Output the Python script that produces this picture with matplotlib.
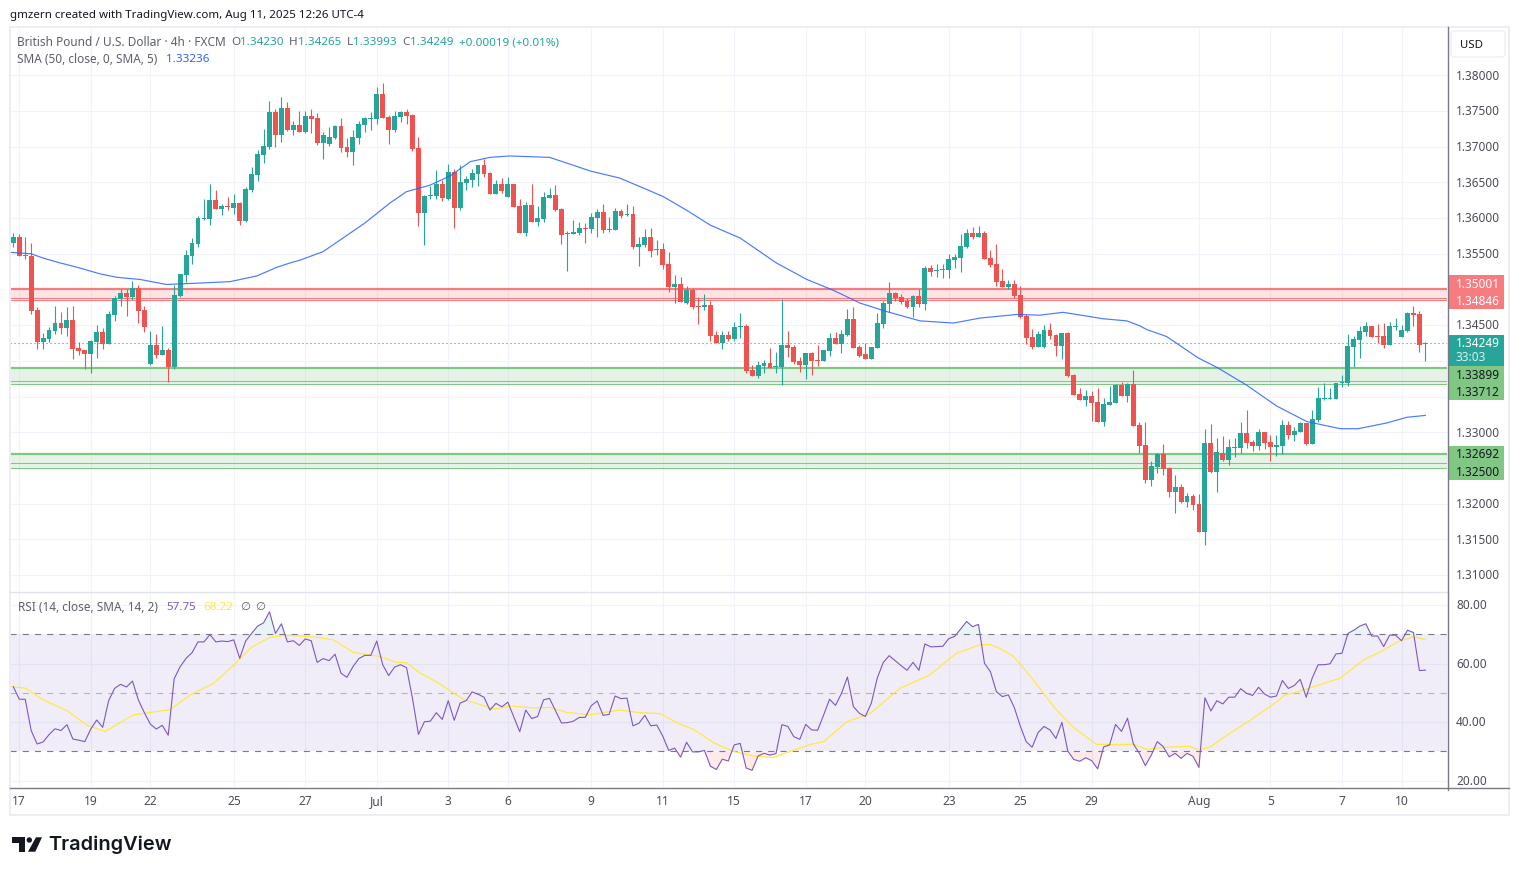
import numpy as np
import matplotlib
matplotlib.use("Agg")
import matplotlib.pyplot as plt
from matplotlib.patches import Rectangle, FancyBboxPatch, Polygon, Circle

# GBP/USD 4h candles
opens = [
    1.3565, 1.3574, 1.3548, 1.3547, 1.3471, 1.3427, 1.3431, 1.3442, 1.3453, 1.3446,
    1.3457, 1.3418, 1.3415, 1.3410, 1.3426, 1.3440, 1.3424, 1.3464, 1.3487, 1.3495,
    1.3489, 1.3502, 1.3471, 1.3396, 1.3422, 1.3408, 1.3415, 1.3391, 1.3491, 1.3520,
    1.3547, 1.3564, 1.3599, 1.3599, 1.3625, 1.3613, 1.3617, 1.3614, 1.3621, 1.3596,
    1.3639, 1.3660, 1.3688, 1.3700, 1.3749, 1.3716, 1.3754, 1.3723, 1.3730, 1.3721,
    1.3743, 1.3740, 1.3705, 1.3704, 1.3712, 1.3729, 1.3700, 1.3693, 1.3712, 1.3730,
    1.3739, 1.3739, 1.3774, 1.3742, 1.3723, 1.3742, 1.3749, 1.3744, 1.3698, 1.3607,
    1.3631, 1.3631, 1.3648, 1.3627, 1.3665, 1.3614, 1.3649, 1.3653, 1.3662, 1.3674,
    1.3663, 1.3634, 1.3648, 1.3630, 1.3648, 1.3617, 1.3579, 1.3618, 1.3594, 1.3599,
    1.3628, 1.3632, 1.3613, 1.3578, 1.3578, 1.3579, 1.3586, 1.3585, 1.3600, 1.3608,
    1.3583, 1.3583, 1.3610, 1.3604, 1.3606, 1.3559, 1.3562, 1.3574, 1.3555, 1.3557,
    1.3536, 1.3503, 1.3508, 1.3481, 1.3499, 1.3477, 1.3475, 1.3478, 1.3436, 1.3425,
    1.3436, 1.3431, 1.3447, 1.3449, 1.3387, 1.3379, 1.3393, 1.3397, 1.3391, 1.3391,
    1.3422, 1.3419, 1.3400, 1.3394, 1.3411, 1.3401, 1.3400, 1.3414, 1.3432, 1.3424,
    1.3436, 1.3459, 1.3419, 1.3410, 1.3403, 1.3418, 1.3452, 1.3480, 1.3495, 1.3489,
    1.3484, 1.3475, 1.3491, 1.3480, 1.3530, 1.3526, 1.3527, 1.3527, 1.3541, 1.3544,
    1.3559, 1.3579, 1.3573, 1.3579, 1.3544, 1.3536, 1.3512, 1.3503, 1.3508, 1.3492,
    1.3463, 1.3433, 1.3419, 1.3419, 1.3443, 1.3436, 1.3421, 1.3439, 1.3380, 1.3354,
    1.3345, 1.3351, 1.3342, 1.3314, 1.3338, 1.3341, 1.3366, 1.3351, 1.3368, 1.3310,
    1.3282, 1.3233, 1.3251, 1.3270, 1.3250, 1.3216, 1.3223, 1.3202, 1.3211, 1.3200,
    1.3160, 1.3285, 1.3244, 1.3271, 1.3261, 1.3278, 1.3278, 1.3299, 1.3286, 1.3281,
    1.3300, 1.3286, 1.3279, 1.3281, 1.3310, 1.3296, 1.3300, 1.3313, 1.3284, 1.3317,
    1.3347, 1.3347, 1.3347, 1.3369, 1.3369, 1.3419, 1.3429, 1.3441, 1.3449, 1.3435,
    1.3435, 1.3422, 1.3448, 1.3433, 1.3442, 1.3467, 1.3466, 1.34230,
]
highs = [
    1.3579, 1.3578, 1.3574, 1.3565, 1.3475, 1.3439, 1.3447, 1.3477, 1.3468, 1.3475,
    1.3477, 1.3426, 1.3415, 1.3429, 1.3450, 1.3446, 1.3470, 1.3491, 1.3501, 1.3501,
    1.3512, 1.3506, 1.3477, 1.3442, 1.3438, 1.3449, 1.3418, 1.3506, 1.3522, 1.3555,
    1.3572, 1.3603, 1.3627, 1.3648, 1.3639, 1.3620, 1.3630, 1.3634, 1.3622, 1.3644,
    1.3671, 1.3695, 1.3725, 1.3764, 1.3753, 1.3770, 1.3763, 1.3736, 1.3750, 1.3750,
    1.3753, 1.3747, 1.3721, 1.3728, 1.3730, 1.3740, 1.3712, 1.3723, 1.3736, 1.3742,
    1.3749, 1.3784, 1.3789, 1.3744, 1.3750, 1.3750, 1.3753, 1.3746, 1.3714, 1.3632,
    1.3645, 1.3667, 1.3653, 1.3676, 1.3669, 1.3674, 1.3659, 1.3669, 1.3674, 1.3683,
    1.3665, 1.3653, 1.3656, 1.3657, 1.3648, 1.3627, 1.3622, 1.3648, 1.3617, 1.3637,
    1.3642, 1.3646, 1.3614, 1.3582, 1.3597, 1.3594, 1.3593, 1.3607, 1.3613, 1.3620,
    1.3601, 1.3614, 1.3613, 1.3620, 1.3617, 1.3574, 1.3585, 1.3586, 1.3569, 1.3565,
    1.3552, 1.3520, 1.3517, 1.3505, 1.3502, 1.3489, 1.3494, 1.3484, 1.3442, 1.3442,
    1.3442, 1.3454, 1.3467, 1.3452, 1.3394, 1.3400, 1.3401, 1.3418, 1.3412, 1.3487,
    1.3442, 1.3422, 1.3405, 1.3411, 1.3412, 1.3422, 1.3415, 1.3439, 1.3440, 1.3443,
    1.3473, 1.3475, 1.3422, 1.3425, 1.3419, 1.3467, 1.3484, 1.3510, 1.3496, 1.3494,
    1.3488, 1.3492, 1.3501, 1.3533, 1.3534, 1.3536, 1.3536, 1.3550, 1.3550, 1.3578,
    1.3585, 1.3587, 1.3589, 1.3582, 1.3555, 1.3564, 1.3529, 1.3513, 1.3513, 1.3505,
    1.3466, 1.3445, 1.3442, 1.3450, 1.3453, 1.3438, 1.3439, 1.3440, 1.3382, 1.3362,
    1.3359, 1.3358, 1.3362, 1.3348, 1.3365, 1.3368, 1.3370, 1.3369, 1.3387, 1.3314,
    1.3314, 1.3260, 1.3271, 1.3284, 1.3251, 1.3240, 1.3228, 1.3215, 1.3214, 1.3214,
    1.3305, 1.3312, 1.3292, 1.3295, 1.3291, 1.3292, 1.3314, 1.3331, 1.3289, 1.3305,
    1.3300, 1.3296, 1.3296, 1.3317, 1.3316, 1.3307, 1.3314, 1.3313, 1.3331, 1.3363,
    1.3369, 1.3362, 1.3369, 1.3380, 1.3438, 1.3435, 1.3449, 1.3455, 1.3449, 1.3452,
    1.3453, 1.3455, 1.3460, 1.3450, 1.3468, 1.3477, 1.3470, 1.34265,
]
lows = [
    1.3559, 1.3547, 1.3542, 1.3466, 1.3416, 1.3416, 1.3426, 1.3438, 1.3438, 1.3435,
    1.3402, 1.3408, 1.3388, 1.3383, 1.3404, 1.3417, 1.3424, 1.3456, 1.3477, 1.3463,
    1.3485, 1.3453, 1.3440, 1.3394, 1.3404, 1.3408, 1.3371, 1.3388, 1.3489, 1.3510,
    1.3536, 1.3559, 1.3597, 1.3590, 1.3613, 1.3604, 1.3611, 1.3606, 1.3590, 1.3594,
    1.3637, 1.3652, 1.3677, 1.3697, 1.3700, 1.3707, 1.3722, 1.3716, 1.3721, 1.3719,
    1.3719, 1.3702, 1.3683, 1.3701, 1.3711, 1.3693, 1.3686, 1.3674, 1.3704, 1.3721,
    1.3723, 1.3732, 1.3740, 1.3704, 1.3721, 1.3735, 1.3732, 1.3694, 1.3589, 1.3562,
    1.3627, 1.3627, 1.3624, 1.3625, 1.3586, 1.3611, 1.3639, 1.3644, 1.3645, 1.3657,
    1.3634, 1.3634, 1.3635, 1.3630, 1.3616, 1.3579, 1.3575, 1.3594, 1.3589, 1.3594,
    1.3628, 1.3610, 1.3564, 1.3526, 1.3578, 1.3576, 1.3565, 1.3579, 1.3574, 1.3579,
    1.3581, 1.3583, 1.3600, 1.3603, 1.3557, 1.3533, 1.3559, 1.3545, 1.3548, 1.3529,
    1.3496, 1.3481, 1.3482, 1.3480, 1.3473, 1.3452, 1.3471, 1.3428, 1.3425, 1.3417,
    1.3428, 1.3428, 1.3432, 1.3383, 1.3379, 1.3376, 1.3383, 1.3390, 1.3383, 1.3366,
    1.3405, 1.3396, 1.3384, 1.3375, 1.3380, 1.3393, 1.3400, 1.3407, 1.3424, 1.3411,
    1.3435, 1.3418, 1.3405, 1.3403, 1.3403, 1.3418, 1.3446, 1.3468, 1.3484, 1.3480,
    1.3474, 1.3461, 1.3475, 1.3471, 1.3519, 1.3517, 1.3516, 1.3516, 1.3530, 1.3524,
    1.3558, 1.3571, 1.3573, 1.3543, 1.3531, 1.3505, 1.3503, 1.3501, 1.3488, 1.3460,
    1.3424, 1.3417, 1.3419, 1.3418, 1.3431, 1.3407, 1.3403, 1.3377, 1.3352, 1.3345,
    1.3337, 1.3316, 1.3314, 1.3309, 1.3338, 1.3341, 1.3351, 1.3342, 1.3309, 1.3271,
    1.3229, 1.3225, 1.3243, 1.3240, 1.3209, 1.3187, 1.3201, 1.3195, 1.3191, 1.3160,
    1.3142, 1.3243, 1.3216, 1.3260, 1.3254, 1.3265, 1.3271, 1.3278, 1.3274, 1.3275,
    1.3277, 1.3260, 1.3267, 1.3270, 1.3291, 1.3288, 1.3300, 1.3282, 1.3284, 1.3314,
    1.3345, 1.3347, 1.3347, 1.3363, 1.3365, 1.3391, 1.3404, 1.3435, 1.3433, 1.3425,
    1.3418, 1.3422, 1.3443, 1.3433, 1.3441, 1.3449, 1.3412, 1.33993,
]
closes = [
    1.3574, 1.3547, 1.3547, 1.3470, 1.3427, 1.3432, 1.3443, 1.3453, 1.3446, 1.3457,
    1.3417, 1.3414, 1.3410, 1.3428, 1.3440, 1.3424, 1.3466, 1.3488, 1.3495, 1.3489,
    1.3502, 1.3470, 1.3447, 1.3422, 1.3408, 1.3415, 1.3391, 1.3492, 1.3522, 1.3548,
    1.3565, 1.3600, 1.3600, 1.3625, 1.3613, 1.3617, 1.3616, 1.3621, 1.3596, 1.3641,
    1.3662, 1.3690, 1.3701, 1.3749, 1.3716, 1.3754, 1.3723, 1.3730, 1.3721, 1.3743,
    1.3739, 1.3705, 1.3716, 1.3714, 1.3729, 1.3698, 1.3693, 1.3714, 1.3732, 1.3740,
    1.3740, 1.3774, 1.3740, 1.3723, 1.3743, 1.3749, 1.3743, 1.3697, 1.3607, 1.3631,
    1.3632, 1.3648, 1.3628, 1.3665, 1.3614, 1.3650, 1.3655, 1.3663, 1.3674, 1.3662,
    1.3634, 1.3648, 1.3638, 1.3648, 1.3616, 1.3579, 1.3618, 1.3594, 1.3600, 1.3630,
    1.3632, 1.3611, 1.3576, 1.3579, 1.3580, 1.3586, 1.3585, 1.3601, 1.3608, 1.3583,
    1.3585, 1.3610, 1.3603, 1.3606, 1.3559, 1.3564, 1.3574, 1.3554, 1.3557, 1.3534,
    1.3503, 1.3508, 1.3482, 1.3499, 1.3475, 1.3475, 1.3478, 1.3435, 1.3425, 1.3436,
    1.3431, 1.3447, 1.3449, 1.3386, 1.3379, 1.3394, 1.3397, 1.3390, 1.3393, 1.3422,
    1.3418, 1.3398, 1.3394, 1.3411, 1.3400, 1.3400, 1.3415, 1.3432, 1.3424, 1.3438,
    1.3459, 1.3418, 1.3407, 1.3403, 1.3419, 1.3453, 1.3481, 1.3495, 1.3488, 1.3482,
    1.3475, 1.3491, 1.3480, 1.3530, 1.3524, 1.3527, 1.3529, 1.3543, 1.3545, 1.3561,
    1.3579, 1.3573, 1.3579, 1.3543, 1.3534, 1.3510, 1.3503, 1.3508, 1.3491, 1.3461,
    1.3432, 1.3419, 1.3438, 1.3443, 1.3435, 1.3421, 1.3439, 1.3379, 1.3352, 1.3345,
    1.3351, 1.3341, 1.3314, 1.3340, 1.3342, 1.3366, 1.3351, 1.3368, 1.3309, 1.3281,
    1.3233, 1.3253, 1.3270, 1.3249, 1.3216, 1.3223, 1.3202, 1.3211, 1.3198, 1.3160,
    1.3285, 1.3244, 1.3272, 1.3261, 1.3279, 1.3279, 1.3299, 1.3285, 1.3281, 1.3300,
    1.3285, 1.3279, 1.3282, 1.3310, 1.3296, 1.3302, 1.3313, 1.3284, 1.3319, 1.3348,
    1.3348, 1.3348, 1.3369, 1.3371, 1.3421, 1.3431, 1.3442, 1.3449, 1.3433, 1.3433,
    1.3422, 1.3449, 1.3449, 1.3443, 1.3467, 1.3464, 1.3422, 1.34249,
]

# SMA(50), read at a set of bar positions
sma_bars = [-0.5, 3, 5, 7.5, 11.2, 14.5, 17.4, 21.3, 25.7, 31.3, 36.4, 40.9, 44.2, 46.4, 48.1,
            52, 54.8, 59, 63.2, 66, 69.9, 73.3, 76.7, 80, 83.3, 90, 94, 96.8, 101.8, 106.6,
            109.1, 113, 117, 122, 128.1, 133.2, 137.6, 142.1, 146.6, 152.2, 157.8, 162.3,
            168.4, 172.3, 176.2, 182.9, 186.9, 189.1, 190.2, 193.6, 198.9, 202, 207, 212,
            217.1, 222.7, 225.7, 230.5, 233.9, 237]
sma_vals = [1.3552, 1.3550, 1.3544, 1.3538, 1.3530, 1.3522, 1.3517, 1.3514, 1.3507, 1.3509,
            1.3511, 1.3519, 1.3531, 1.3537, 1.3541, 1.3553, 1.3569, 1.3593, 1.3621, 1.3637,
            1.3646, 1.3659, 1.3679, 1.3685, 1.3687, 1.3685, 1.3674, 1.3666, 1.3656, 1.3639,
            1.3630, 1.3611, 1.3590, 1.3572, 1.3537, 1.3514, 1.3499, 1.3481, 1.3469, 1.3456,
            1.3453, 1.3460, 1.3465, 1.3464, 1.3468, 1.3459, 1.3456, 1.3449, 1.3444, 1.3434,
            1.3404, 1.3391, 1.3366, 1.3337, 1.3315, 1.3305, 1.3305, 1.3313, 1.3321, 1.33236]

rsi_vals = [
    52.1, 47.8, 47.8, 37.1, 32.5, 33.2, 35.7, 37.7, 37.1, 39.1,
    34.2, 33.8, 33.3, 37.6, 40.7, 38.2, 47.3, 51.5, 52.9, 52.0,
    54.0, 47.5, 43.2, 39.3, 37.6, 38.9, 35.5, 54.8, 58.9, 61.8,
    63.7, 67.4, 67.4, 69.9, 67.4, 67.7, 67.5, 68.1, 61.8, 67.7,
    70.3, 72.8, 73.9, 77.7, 70.3, 73.6, 67.4, 67.8, 66.2, 68.4,
    67.8, 60.4, 61.7, 61.0, 63.2, 56.7, 55.3, 58.9, 61.7, 62.8,
    62.8, 67.7, 59.6, 55.9, 58.8, 59.6, 58.6, 48.1, 35.8, 40.1,
    40.3, 43.2, 40.9, 47.3, 40.6, 46.5, 47.3, 50.3, 49.5, 48.5,
    44.1, 46.4, 45.2, 46.8, 41.7, 36.7, 44.1, 41.2, 41.9, 47.6,
    48.1, 43.9, 39.7, 39.8, 40.3, 41.6, 41.6, 45.6, 47.2, 42.3,
    42.6, 48.9, 48.0, 48.2, 38.7, 39.6, 42.3, 38.7, 39.0, 35.2,
    30.3, 31.1, 28.0, 33.1, 29.8, 29.8, 30.3, 24.9, 23.8, 27.3,
    26.7, 32.2, 32.7, 24.3, 23.5, 28.4, 29.3, 28.7, 29.2, 39.1,
    38.5, 35.0, 34.1, 39.2, 37.3, 37.2, 42.4, 47.8, 45.7, 49.8,
    55.4, 45.3, 43.0, 41.9, 46.4, 55.0, 60.3, 62.7, 61.0, 59.3,
    57.7, 60.4, 57.7, 66.7, 65.7, 65.8, 65.9, 68.5, 69.3, 71.8,
    74.4, 72.6, 73.4, 60.1, 57.2, 50.4, 48.7, 49.3, 45.0, 38.7,
    33.3, 31.4, 36.4, 38.5, 37.3, 34.4, 39.9, 30.0, 27.2, 26.6,
    27.8, 26.8, 24.0, 31.5, 32.2, 39.2, 36.8, 41.3, 32.5, 29.3,
    25.1, 28.7, 33.3, 31.6, 28.1, 29.3, 27.6, 29.3, 28.3, 24.5,
    48.3, 43.8, 47.3, 46.2, 48.5, 48.5, 51.4, 49.8, 49.1, 51.9,
    49.6, 48.5, 48.9, 54.2, 51.5, 52.5, 54.6, 48.5, 55.0, 59.6,
    59.6, 59.9, 63.3, 63.5, 70.3, 71.4, 72.8, 73.6, 69.4, 69.4,
    65.8, 69.7, 69.7, 67.8, 71.4, 70.6, 57.6, 57.75,
]

# yellow RSI smoothing line, read at a set of bar positions
rsi_ma_bars = [-0.5, 2, 5, 9, 12.3, 15.4, 20.1, 22.9, 26.3, 29.7, 33.6, 37, 40, 43.1, 45.9,
               50.9, 53.7, 57.1, 61.5, 64.3, 66, 68.3, 71, 75.5, 78.3, 80.8, 83.4, 87.3, 90.1,
               92.9, 96.8, 101.8, 105.2, 108.5, 111.9, 114.1, 117.5, 120.8, 124.2, 127.5,
               133.7, 136, 139.9, 143.8, 148.8, 153.8, 158.3, 162.2, 163.9, 165.6, 167.9,
               171.2, 174.6, 177.9, 181.8, 184.6, 188, 190.2, 193.6, 197.5, 199, 200.9, 204.2,
               207, 212, 213.2, 216, 222.7, 226.6, 230, 232.2, 235, 237]
rsi_ma_vals = [52.1, 51.6, 47.6, 43.9, 39.0, 36.8, 42.4, 43.3, 44.2, 49.3, 53.2, 59.5, 65.6,
               69.0, 69.7, 69.0, 68.1, 63.8, 62.4, 60.4, 60.3, 56.7, 53.8, 47.8, 46.0, 44.4,
               45.5, 44.8, 45.0, 43.3, 42.5, 44.1, 43.2, 42.9, 39.3, 37.6, 33.0, 30.0, 28.4,
               27.9, 32.3, 33.3, 40.1, 42.9, 51.5, 56.1, 63.5, 66.4, 66.5, 65.2, 62.4, 54.4,
               45.3, 38.2, 32.4, 32.3, 32.4, 30.7, 31.4, 31.7, 30.5, 31.5, 36.2, 39.8, 46.8,
               49.0, 50.6, 55.0, 61.2, 64.6, 67.3, 69.2, 68.22]

# time axis
tick_bars = [1, 13, 23, 37, 49, 61, 73, 83, 97, 109, 121, 133, 143, 157, 169, 181, 199, 211, 223, 233]
tick_labels = ["17", "19", "22", "25", "27", "Jul", "3", "6", "9", "11",
               "15", "17", "20", "23", "25", "29", "Aug", "5", "7", "10"]

# price axis
grid_prices = [1.31, 1.315, 1.32, 1.325, 1.33, 1.335, 1.34, 1.345, 1.35, 1.355, 1.36, 1.365, 1.37, 1.375, 1.38]
label_prices = [1.31, 1.315, 1.32, 1.33, 1.345, 1.355, 1.36, 1.365, 1.37, 1.375, 1.38]
rsi_labels = [20, 40, 60, 80]
last_price = 1.34249

# support / resistance zones: top, inner line, bottom
red_zone = (1.35001, 1.34876, 1.34846)
green_zones = [(1.33899, 1.33712, 1.33670), (1.32692, 1.32565, 1.32500)]

UP = "#26a69a"
DOWN = "#ef5350"
GRID = "#f0f3fa"
AXIS = "#787b86"
TEXT = "#4a4d57"
LEGEND = "#5d606b"
DARK = "#131722"
RED_LINE = "#f77c80"
GREEN_LINE = "#81c784"
PURPLE = "#7e57c2"
YELLOW = "#ffe93b"
BLUE = "#2962ff"

W, H = 1519, 875
plt.rcParams["font.family"] = ["Noto Sans", "DejaVu Sans"]


def pane(top, bottom):
    return [10 / W, 1 - bottom / H, 1437 / W, (bottom - top) / H]


fig = plt.figure(figsize=(W / 100, H / 100), dpi=100, facecolor="white")
ax = fig.add_axes(pane(28, 591))
ax2 = fig.add_axes(pane(592, 787))

bars = np.arange(len(closes))
opens, highs, lows, closes = map(np.array, (opens, highs, lows, closes))

ax.set_xlim(-0.554, 240.63)
ax.set_ylim(1.30777, 1.38662)
ax2.set_xlim(-0.554, 240.63)
ax2.set_ylim(17.8, 84.46)

for a in (ax, ax2):
    a.set_xticks([])
    a.set_yticks([])
    for s in a.spines.values():
        s.set_visible(False)
    a.vlines(tick_bars, 0, 1, transform=a.get_xaxis_transform(), color=GRID, lw=0.8, zorder=1)

ax.hlines(grid_prices, -1, 241, color=GRID, lw=0.8, zorder=1)
ax2.hlines(rsi_labels, -1, 241, color=GRID, lw=0.8, zorder=1)

# zones
ax.axhspan(red_zone[2], red_zone[0], color=RED_LINE, alpha=0.2, lw=0, zorder=2)
ax.axhline(red_zone[0], color=RED_LINE, lw=1.6, zorder=2)
ax.axhline(red_zone[1], color=RED_LINE, lw=0.75, zorder=2)
ax.axhline(red_zone[2], color=RED_LINE, lw=0.75, zorder=2)
for top, mid, low in green_zones:
    ax.axhspan(low, top, color=GREEN_LINE, alpha=0.2, lw=0, zorder=2)
    ax.axhline(top, color=GREEN_LINE, lw=1.6, zorder=2)
    ax.axhline(mid, color=GREEN_LINE, lw=0.75, zorder=2)
    ax.axhline(low, color=GREEN_LINE, lw=0.75, zorder=2)

ax.axhline(last_price, color=UP, lw=0.8, ls=(0, (1, 2.6)), zorder=2)

# candles
colors = [UP if c >= o else DOWN for o, c in zip(opens, closes)]
ax.vlines(bars, lows, highs, colors=colors, lw=0.8, zorder=3)
ax.bar(bars, np.abs(closes - opens), bottom=np.minimum(opens, closes), width=0.82,
       color=colors, lw=0, zorder=4)

ax.plot(sma_bars, sma_vals, color=BLUE, lw=0.85, alpha=0.85, zorder=5)

# RSI pane
ax2.axhspan(30, 70, color=PURPLE, alpha=0.1, lw=0, zorder=2)
for level, col in ((70, AXIS), (50, "#b2b5be"), (30, AXIS)):
    ax2.axhline(level, color=col, lw=0.8, ls=(0, (5.5, 5.5)), zorder=3)
rsi_vals = np.array(rsi_vals)
ax2.fill_between(bars, 70, rsi_vals, where=rsi_vals > 70, interpolate=True, color=UP, alpha=0.1, lw=0, zorder=2)
ax2.fill_between(bars, 30, rsi_vals, where=rsi_vals < 30, interpolate=True, color=DOWN, alpha=0.12, lw=0, zorder=2)
ax2.plot(rsi_ma_bars, rsi_ma_vals, color=YELLOW, lw=0.85, zorder=4)
ax2.plot(bars, rsi_vals, color=PURPLE, lw=0.8, zorder=5)

# overlay in pixel coordinates for chrome, labels and tags
ov = fig.add_axes([0, 0, 1, 1], zorder=10)
ov.set_xlim(0, W)
ov.set_ylim(H, 0)
ov.axis("off")
ov.patch.set_alpha(0)

ov.add_patch(Rectangle((9.5, 27), 1499.5, 788, fill=False, ec="#eceef3", lw=1.4))
ov.plot([10, 1447.5], [591.5, 591.5], color="#e0e3eb", lw=1)
ov.plot([10, 1509], [787.5, 787.5], color=AXIS, lw=1)
ov.plot([1447.5, 1447.5], [27, 790], color=AXIS, lw=1)


def txt(x, y, s, color=TEXT, size=8.5, ha="left", **kw):
    ov.text(x, y + 0.8, s, color=color, fontsize=size, ha=ha, va="center", **kw)


txt(10, 14.5, "gmzern created with TradingView.com, Aug 11, 2025 12:26 UTC-4", color=DARK, size=8.3)

txt(17, 42, "British Pound / U.S. Dollar · 4h · FXCM", color=LEGEND, size=8.55)
for x_key, key, x_val, val in ((231, "O", 240, "1.34230"), (289, "H", 298, "1.34265"),
                               (347, "L", 353.5, "1.33993"), (402, "C", 410, "1.34249")):
    txt(x_key, 42, key, color=LEGEND, size=8.4)
    txt(x_val, 42, val, color=UP, size=8.4)
txt(459, 42, "+0.00019 (+0.01%)", color=UP, size=8.4)
txt(17, 58.5, "SMA (50, close, 0, SMA, 5)", color=LEGEND, size=8.5)
txt(166, 58.5, "1.33236", color=BLUE, size=8.4)

txt(18, 606.5, "RSI (14, close, SMA, 14, 2)", color=LEGEND, size=8.5)
txt(166, 606.5, "57.75", color=PURPLE, size=8.4)
txt(203, 606.5, "68.22", color=YELLOW, size=8.4)
txt(240, 606.5, "∅", color=LEGEND, size=8.2)
txt(255, 606.5, "∅", color=LEGEND, size=8.2)

# price and RSI axis labels go through the panes' own data transforms
for p in label_prices:
    ypx = H - ax.transData.transform((0, p))[1] * H / fig.bbox.height
    txt(1456, ypx, f"{p:.5f}", size=8.5)
for r in rsi_labels:
    ypx = H - ax2.transData.transform((0, r))[1] * H / fig.bbox.height
    txt(1456, ypx, f"{r:.2f}", size=8.5)
for b, lab in zip(tick_bars, tick_labels):
    xpx = ax.transData.transform((b, 0))[0] * W / fig.bbox.width
    txt(xpx, 800.5, lab, size=8.6, ha="center")

# USD box
ov.add_patch(FancyBboxPatch((1453, 33), 50, 22, boxstyle="round,pad=2,rounding_size=3",
                            fc="white", ec="#eceef3", lw=1))
txt(1460, 44.5, "USD", color=DARK, size=8.2)

# price tags
tags = [
    (275, 309, RED_LINE, [(283.5, "1.35001", "white"), (300.5, "1.34846", "white")]),
    (335, 366, UP, [(342.5, "1.34249", "white"), (356.5, "33:03", "#d5f0ec")]),
    (366, 400, GREEN_LINE, [(374.5, "1.33899", DARK), (391.5, "1.33712", DARK)]),
    (446, 480, GREEN_LINE, [(453.5, "1.32692", DARK), (471.5, "1.32500", DARK)]),
]
for y0, y1, col, rows in tags:
    ov.add_patch(Rectangle((1448, y0), 56, y1 - y0, fc=col, ec="none"))
    for y, s, c in rows:
        txt(1456, y, s, color=c, size=8.5)

# TradingView logo
logo_t = [(12, 837.3), (25.3, 837.3), (25.3, 851.7), (18.7, 851.7), (18.7, 842.7), (12, 842.7)]
logo_slash = [(36, 837.3), (42, 837.3), (35.3, 851.7), (28, 851.7)]
ov.add_patch(Polygon(logo_t, fc=DARK, ec="none"))
ov.add_patch(Polygon(logo_slash, fc=DARK, ec="none"))
ov.add_patch(Circle((29.3, 840), 2.7, fc=DARK, ec="none"))
ov.text(48.5, 845, "TradingView", color=DARK, fontsize=14.4, family="Inter",
        weight="semibold", ha="left", va="center")

fig.savefig("out.png", dpi=100, facecolor="white")
